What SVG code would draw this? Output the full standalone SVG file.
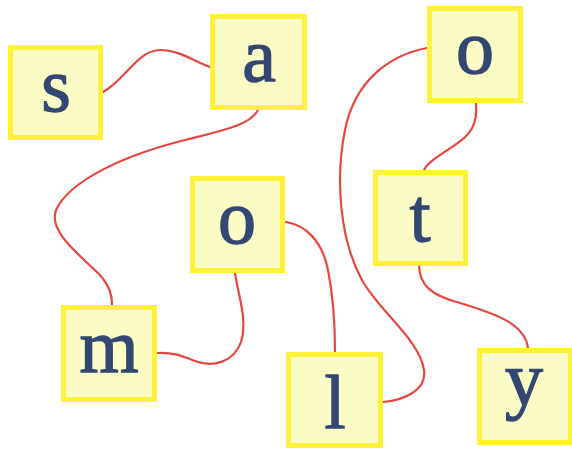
<svg xmlns="http://www.w3.org/2000/svg" width="572" height="450" viewBox="0 0 572 450">
<style>
.box{fill:#fbfbc6;stroke:#fff03a;stroke-width:5}
.lt{font-family:"Liberation Serif","Times New Roman",serif;font-size:76px;fill:#344672;stroke:#344672;stroke-width:1.3;text-anchor:middle}
.cn{fill:none;stroke:#e8473f;stroke-width:2.2;stroke-linecap:round}
</style>
<rect width="572" height="450" fill="#ffffff"/>
<g id="connectors">
<path class="cn" d="M103,92 C125,80 138,50 160,50 C180,50 195,62 210,67"/>
<path class="cn" d="M258,110 C250,125 225,130 185,140 C125,155 70,180 56,210 C48,232 80,255 100,275 C110,287 112,295 112,305"/>
<path class="cn" d="M235,273 C238,295 248,320 241,342 C234,362 213,368 195,361 C180,355 170,352 158,353"/>
<path class="cn" d="M286,222 C305,225 322,240 328,270 C334,300 335,330 335,352"/>
<path class="cn" d="M427,48 C390,55 355,80 345,130 C335,180 340,240 362,280 C378,310 420,340 424,370 C427,390 405,400 383,402"/>
<path class="cn" d="M476,103 C478,125 470,135 455,145 C440,155 428,162 424,170"/>
<path class="cn" d="M419,266 C420,285 430,295 460,303 C500,315 525,325 528,348"/>
</g>
<g id="node-s"><rect class="box" x="10.5" y="47.5" width="90" height="90"/><text class="lt" x="56" y="111">s</text></g>
<g id="node-a"><rect class="box" x="212.5" y="16.5" width="92" height="91"/><text class="lt" x="259" y="81">a</text></g>
<g id="node-o1"><rect class="box" x="429.5" y="8.5" width="91" height="92"/><text class="lt" x="475" y="73">o</text></g>
<g id="node-t"><rect class="box" x="375.5" y="172.5" width="90" height="91"/><text class="lt" x="420" y="241">t</text></g>
<g id="node-o2"><rect class="box" x="192.5" y="178.5" width="90" height="92"/><text class="lt" x="237" y="243">o</text></g>
<g id="node-m"><rect class="box" x="63.5" y="307.5" width="91" height="92"/><text class="lt" x="109" y="372">m</text></g>
<g id="node-l"><rect class="box" x="288.5" y="354.5" width="92" height="91"/><text class="lt" x="335" y="428">l</text></g>
<g id="node-y"><rect class="box" x="479.5" y="350.5" width="91" height="92"/><text class="lt" x="524" y="405">y</text></g>
</svg>
